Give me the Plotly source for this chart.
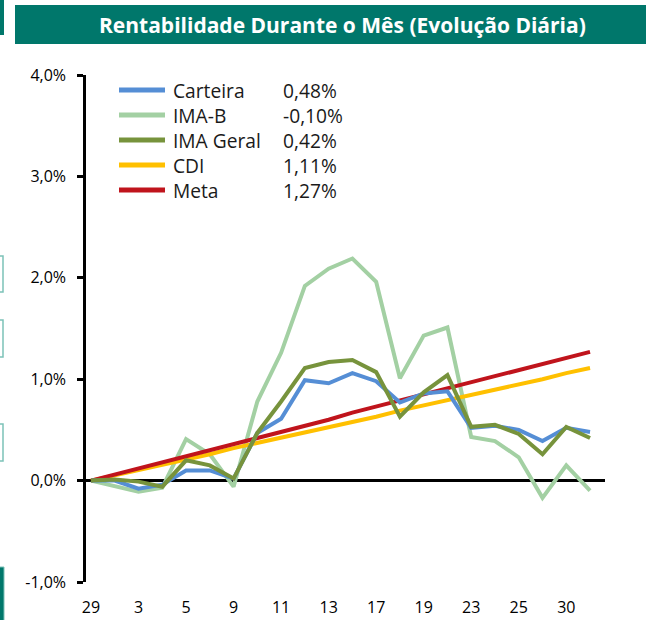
import plotly.graph_objects as go

# ---------------- data ----------------
days = ["29", "2", "3", "4", "5", "6", "9", "10", "11", "12", "13",
        "16", "17", "18", "19", "20", "23", "24", "25", "26", "30", "31"]

carteira = [0.00, 0.00, -0.08, -0.04, 0.10, 0.10, 0.02, 0.47, 0.61, 0.99, 0.96,
            1.06, 0.98, 0.77, 0.86, 0.88, 0.52, 0.54, 0.50, 0.39, 0.52, 0.48]
ima_b = [0.00, -0.06, -0.11, -0.07, 0.41, 0.26, -0.06, 0.78, 1.26, 1.92, 2.09,
         2.19, 1.96, 1.01, 1.43, 1.51, 0.43, 0.39, 0.23, -0.17, 0.15, -0.10]
ima_geral = [0.00, 0.01, -0.01, -0.06, 0.20, 0.15, 0.02, 0.47, 0.78, 1.11, 1.17,
             1.19, 1.07, 0.63, 0.87, 1.04, 0.53, 0.55, 0.46, 0.26, 0.53, 0.42]
cdi = [0.00, 0.05, 0.11, 0.16, 0.21, 0.26, 0.32, 0.37, 0.42, 0.48, 0.53,
       0.58, 0.63, 0.69, 0.74, 0.79, 0.85, 0.90, 0.95, 1.00, 1.06, 1.11]
meta = [0.00, 0.06, 0.12, 0.18, 0.24, 0.30, 0.36, 0.42, 0.48, 0.54, 0.60,
        0.67, 0.73, 0.79, 0.85, 0.91, 0.97, 1.03, 1.09, 1.15, 1.21, 1.27]

series_names = ["Carteira", "IMA-B", "IMA Geral", "CDI", "Meta"]
series_totals = ["0,48%", "-0,10%", "0,42%", "1,11%", "1,27%"]

y_tick_vals = [-1, 0, 1, 2, 3, 4]
y_tick_text = ["-1,0%", "0,0%", "1,0%", "2,0%", "3,0%", "4,0%"]
x_tick_vals = days[::2]

title_text = "Rentabilidade Durante o Mês (Evolução Diária)"

# ---------------- style ----------------
colors = ["#558ED5", "#A3D0A3", "#77933C", "#FFC000", "#C0141C"]
W, H = 646, 620
ML, MR, MT, MB = 86, 41, 75, 38
PW, PH = W - ML - MR, H - MT - MB


def px(xp):
    return (xp - ML) / PW


def py(yp):
    return (H - MB - yp) / PH


fig = go.Figure()
all_series = [carteira, ima_b, ima_geral, cdi, meta]
order = [1, 3, 4, 0, 2]  # draw order (light green first, olive on top)
for i in order:
    fig.add_trace(go.Scatter(
        x=days, y=all_series[i], mode="lines", name=series_names[i],
        line=dict(color=colors[i], width=4), showlegend=False,
        hoverinfo="skip",
    ))

shapes = []
annotations = []

# title banner
shapes.append(dict(type="rect", xref="paper", yref="paper",
                   x0=px(15), x1=px(648), y0=py(44), y1=py(5),
                   fillcolor="#00776B", line=dict(width=0), layer="below"))
annotations.append(dict(text="<b>" + title_text + "</b>", xref="paper", yref="paper",
                        x=px(342), y=py(25), xanchor="center", yanchor="middle",
                        showarrow=False,
                        font=dict(family="Open Sans", size=21, color="white")))

# left-edge page fragments
shapes.append(dict(type="rect", xref="paper", yref="paper",
                   x0=px(-2), x1=px(4), y0=py(35), y1=py(-2),
                   fillcolor="#00776B", line=dict(width=0)))
for (a, b) in [(256, 292), (320, 357), (424, 461)]:
    shapes.append(dict(type="rect", xref="paper", yref="paper",
                       x0=px(-2), x1=px(3), y0=py(b), y1=py(a),
                       fillcolor="white", line=dict(width=1.5, color="#7CC2B8")))
shapes.append(dict(type="rect", xref="paper", yref="paper",
                   x0=px(-2), x1=px(4), y0=py(622), y1=py(567),
                   fillcolor="#00776B", line=dict(width=1, color="#7CC2B8")))

# legend (manual, with totals column)
leg_y = [90, 115, 140, 165, 190]
for i, name in enumerate(series_names):
    shapes.append(dict(type="line", xref="paper", yref="paper",
                       x0=px(119), x1=px(165), y0=py(leg_y[i]), y1=py(leg_y[i]),
                       line=dict(color=colors[i], width=5)))
leg_font = dict(family="Open Sans", size=19.2, color="#1a1a1a")
annotations.append(dict(text="<br>".join(series_names), xref="paper", yref="paper",
                        x=px(172), y=py(140), xanchor="left", yanchor="middle",
                        align="left", showarrow=False, borderpad=0, font=leg_font))
annotations.append(dict(text="<br>".join(series_totals), xref="paper", yref="paper",
                        x=px(282), y=py(140), xanchor="left", yanchor="middle",
                        align="left", showarrow=False, borderpad=0, font=leg_font))

fig.update_layout(
    width=W, height=H,
    margin=dict(l=ML, r=MR, t=MT, b=MB, pad=0, autoexpand=False),
    paper_bgcolor="white", plot_bgcolor="white",
    font=dict(family="Open Sans", size=16, color="black"),
    shapes=shapes, annotations=annotations,
    showlegend=False,
)
fig.update_xaxes(
    type="category", categoryorder="array", categoryarray=days,
    range=[-0.21, 21.63], tickvals=x_tick_vals, ticktext=x_tick_vals,
    showgrid=False, showline=False, zeroline=False, ticks="",
    automargin=False,
    ticklabelstandoff=14, tickfont=dict(size=16, color="black"),
)
fig.update_yaxes(
    range=[-1, 4], tickvals=y_tick_vals, ticktext=y_tick_text,
    showgrid=False, showline=True, linecolor="black", linewidth=2.5,
    ticks="outside", ticklen=6, tickwidth=2.5, tickcolor="black",
    zeroline=True, zerolinecolor="black", zerolinewidth=2.5,
    automargin=False,
    ticklabelstandoff=8, tickfont=dict(size=16, color="black"),
)

fig.write_html("out.html", config={"displayModeBar": False},
               post_script="document.body.style.margin='0';document.body.style.overflow='hidden';")
